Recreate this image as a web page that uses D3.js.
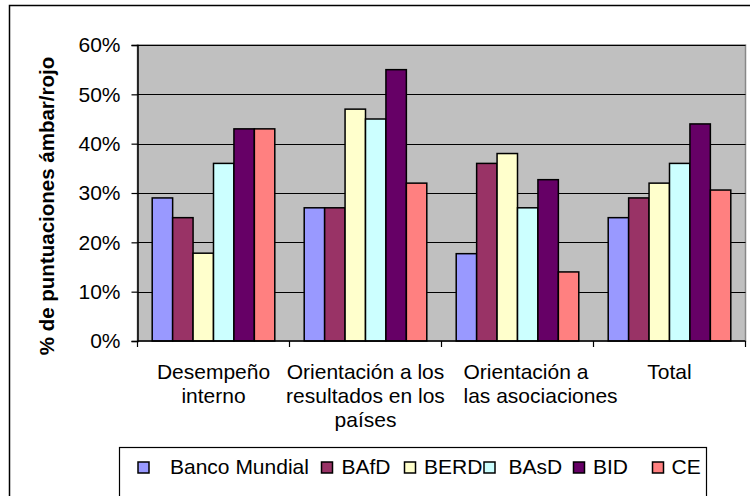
<!DOCTYPE html>
<html>
<head>
<meta charset="utf-8">
<script src="https://cdn.jsdelivr.net/npm/d3@7"></script>
<style>
  html, body { margin: 0; padding: 0; background: #fff; }
  svg { display: block; font-family: "Liberation Sans", Arial, sans-serif; }
</style>
</head>
<body>
<div id="chart"></div>
<script>
// categorias (lineas de la etiqueta)
var categories = [
  ['Desempeño', 'interno'],
  ['Orientación a los', 'resultados en los', 'países'],
  ['Orientación a', 'las asociaciones'],
  ['Total']
];
var seriesNames = ['Banco Mundial', 'BAfD', 'BERD', 'BAsD', 'BID', 'CE'];
var seriesColors = ['#9999FF', '#993366', '#FFFFCC', '#CCFFFF', '#660066', '#FF8080'];

// valores por serie (%), un valor por categoria
var bancoMundial = [29, 27, 17.7, 25];
var bafd = [25, 27, 36, 29];
var berd = [17.8, 47, 38, 32];
var basd = [36, 45, 27, 36];
var bid = [43, 55, 32.7, 44];
var ce = [43, 32, 14, 30.6];
var seriesValues = [bancoMundial, bafd, berd, basd, bid, ce];

var yTicks = [0, 0.1, 0.2, 0.3, 0.4, 0.5, 0.6];
var yTitle = '% de puntuaciones ámbar/rojo';

// posiciones de la leyenda (estilo Excel, columnas irregulares)
var legendX = [137.5, 321, 404, 483.5, 573, 652];
var legendTextOffset = [32.5, 20.5, 20, 25, 20, 19.5];

var W = 750, H = 496;
var plot = { left: 137.5, right: 745.5, top: 45, bottom: 341 };
var fontSize = 21;

var svg = d3.select('#chart').append('svg')
  .attr('width', W).attr('height', H);

// marco exterior del grafico
svg.append('rect')
  .attr('x', 9.5).attr('y', 5.5)
  .attr('width', W + 10).attr('height', H + 10)
  .attr('fill', '#fff').attr('stroke', '#000').attr('stroke-width', 1.5);

var x0 = d3.scaleBand()
  .domain(d3.range(categories.length))
  .range([plot.left, plot.right])
  .padding(0);

var x1 = d3.scaleBand()
  .domain(d3.range(seriesNames.length))
  .range([0, x0.bandwidth()])
  .paddingInner(0)
  .paddingOuter(0.72);

var y = d3.scaleLinear().domain([0, 0.6]).range([plot.bottom, plot.top]);

// fondo del area de trazado
svg.append('rect')
  .attr('x', plot.left).attr('y', plot.top)
  .attr('width', plot.right - plot.left).attr('height', plot.bottom - plot.top)
  .attr('fill', '#C0C0C0').attr('stroke', '#888').attr('stroke-width', 1.5);

// lineas de division
svg.append('g').selectAll('line')
  .data(yTicks.filter(function (d) { return d > 0; }))
  .join('line')
  .attr('x1', plot.left).attr('x2', plot.right)
  .attr('y1', function (d) { return Math.round(y(d)) + 0.5; })
  .attr('y2', function (d) { return Math.round(y(d)) + 0.5; })
  .attr('stroke', '#000').attr('stroke-width', 1);

// barras
var groups = svg.append('g').selectAll('g')
  .data(categories)
  .join('g')
  .attr('transform', function (d, i) { return 'translate(' + x0(i) + ',0)'; });

groups.selectAll('rect')
  .data(function (d, ci) {
    return seriesValues.map(function (vals, si) { return { s: si, v: vals[ci] / 100 }; });
  })
  .join('rect')
  .attr('x', function (d) { return x1(d.s); })
  .attr('y', function (d) { return y(d.v); })
  .attr('width', x1.bandwidth())
  .attr('height', function (d) { return y(0) - y(d.v); })
  .attr('fill', function (d) { return seriesColors[d.s]; })
  .attr('stroke', '#000').attr('stroke-width', 1.5);

// eje Y
var yAxis = svg.append('g')
  .attr('transform', 'translate(' + plot.left + ',0)')
  .call(d3.axisLeft(y).tickValues(yTicks).tickFormat(d3.format('.0%')).tickSize(6).tickPadding(11));
yAxis.select('.domain').attr('stroke', '#000').attr('stroke-width', 1.5);
yAxis.selectAll('.tick line').attr('stroke', '#000').attr('stroke-width', 1.2);
yAxis.selectAll('.tick text')
  .attr('font-size', fontSize).attr('font-family', '"Liberation Sans", Arial, sans-serif')
  .attr('fill', '#000');

// eje X
svg.append('line')
  .attr('x1', plot.left).attr('x2', plot.right)
  .attr('y1', plot.bottom).attr('y2', plot.bottom)
  .attr('stroke', '#000').attr('stroke-width', 1.5);
svg.append('g').selectAll('line')
  .data(d3.range(categories.length + 1))
  .join('line')
  .attr('x1', function (i) { return plot.left + i * x0.step(); })
  .attr('x2', function (i) { return plot.left + i * x0.step(); })
  .attr('y1', plot.bottom).attr('y2', plot.bottom + 6)
  .attr('stroke', '#000').attr('stroke-width', 1.2);

// etiquetas de categoria
categories.forEach(function (lines, ci) {
  var cx = x0(ci) + x0.bandwidth() / 2;
  var shifted = ci === 2; // Excel desplaza esta etiqueta
  var t = svg.append('text')
    .attr('font-size', fontSize)
    .attr('text-anchor', shifted ? 'start' : 'middle')
    .attr('fill', '#000');
  lines.forEach(function (ln, li) {
    t.append('tspan')
      .attr('x', shifted ? x0(ci) + 22 : cx)
      .attr('y', 379 + li * 24)
      .text(ln);
  });
});

// titulo del eje Y
svg.append('text')
  .attr('transform', 'translate(54,' + ((52 + 360) / 2) + ') rotate(-90)')
  .attr('text-anchor', 'middle')
  .attr('font-size', 20.5)
  .attr('font-weight', 'bold')
  .text(yTitle);

// leyenda
svg.append('rect')
  .attr('x', 119.5).attr('y', 447.5)
  .attr('width', 587).attr('height', 80)
  .attr('fill', '#fff').attr('stroke', '#000').attr('stroke-width', 1.2);

var legend = svg.append('g').selectAll('g')
  .data(seriesNames)
  .join('g')
  .attr('transform', function (d, i) { return 'translate(' + legendX[i] + ',0)'; });
legend.append('rect')
  .attr('x', 0.5).attr('y', 462)
  .attr('width', 11).attr('height', 11)
  .attr('fill', function (d, i) { return seriesColors[i]; })
  .attr('stroke', '#000').attr('stroke-width', 1.5);
legend.append('text')
  .attr('x', function (d, i) { return legendTextOffset[i]; })
  .attr('y', 473.5)
  .attr('font-size', fontSize)
  .text(function (d) { return d; });
</script>
</body>
</html>
